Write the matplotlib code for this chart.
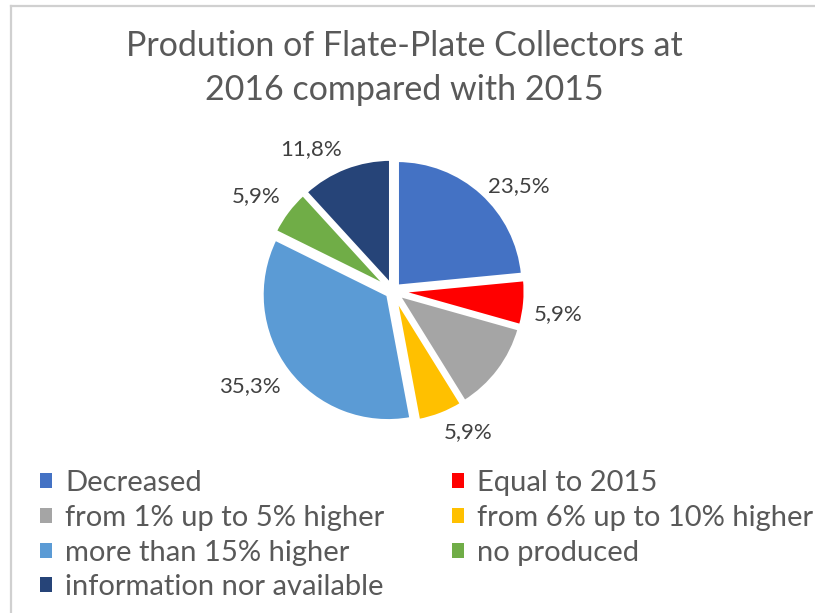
import matplotlib
matplotlib.use("Agg")
import numpy as np
import matplotlib.pyplot as plt
from matplotlib.lines import Line2D
from matplotlib.patches import Patch

title = "Prodution of Flate-Plate Collectors at\n2016 compared with 2015"
categories = ["Decreased", "Equal to 2015", "from 1% up to 5% higher",
              "from 6% up to 10% higher", "more than 15% higher",
              "no produced", "information nor available"]
values = [23.5, 5.9, 11.8, 5.9, 35.3, 5.9, 11.8]
show_label = [True, True, False, True, True, True, True]
colors = ["#4472C4", "#FF0000", "#A5A5A5", "#FFC000", "#5B9BD5", "#70AD47", "#264478"]

plt.rcParams['font.family'] = ['Lato', 'DejaVu Sans']

W, H = 815, 613
fig = plt.figure(figsize=(W/100, H/100), dpi=100)

# chart border (left and top)
fig.add_artist(Line2D([11/W, 11/W], [0, 1-6/H], color="#d0d0d0", lw=1.6, transform=fig.transFigure))
fig.add_artist(Line2D([11/W, 1], [1-6/H, 1-6/H], color="#d0d0d0", lw=1.6, transform=fig.transFigure))

fig.text(404/W, 1-68/H, title, ha="center", va="center", fontsize=24.5,
         color="#595959", linespacing=1.45)

cx, cy, unit = 393, 291, 126
half = 1.5 * unit
ax = fig.add_axes([(cx-half)/W, (H-cy-half)/H, 2*half/W, 2*half/H])
explode = 0.05
wedges, _ = ax.pie(values, colors=colors, startangle=90, counterclock=False,
                   explode=[explode]*len(values),
                   wedgeprops=dict(edgecolor="white", linewidth=2.5))
for w, v, s in zip(wedges, values, show_label):
    if not s:
        continue
    ang = np.deg2rad((w.theta1 + w.theta2) / 2)
    r = 1.0 + explode + 0.07
    x, y = r*np.cos(ang), r*np.sin(ang)
    ha = "left" if x >= 0 else "right"
    va = "top" if y < 0 else ("center" if x > 0 else "bottom")
    ax.text(x, y, f"{v:.1f}".replace(".", ",") + "%", ha=ha, va=va,
            fontsize=16, color="#404040")
ax.set_xlim(-1.5, 1.5)
ax.set_ylim(-1.5, 1.5)
ax.set_aspect("equal")
ax.axis("off")

order = [0, 2, 4, 6, 1, 3, 5]
handles = [Patch(facecolor=colors[i], edgecolor="none") for i in order]
leg = fig.legend(handles, [categories[i] for i in order], ncol=2,
                 loc="upper left", bbox_to_anchor=(40/W, 1-470/H),
                 frameon=False, fontsize=21, handlelength=0.42, handleheight=0.42,
                 handletextpad=0.45, columnspacing=2.3, labelspacing=0.3,
                 borderpad=0, borderaxespad=0, labelcolor="#595959")

fig.savefig("out.png", dpi=100)
